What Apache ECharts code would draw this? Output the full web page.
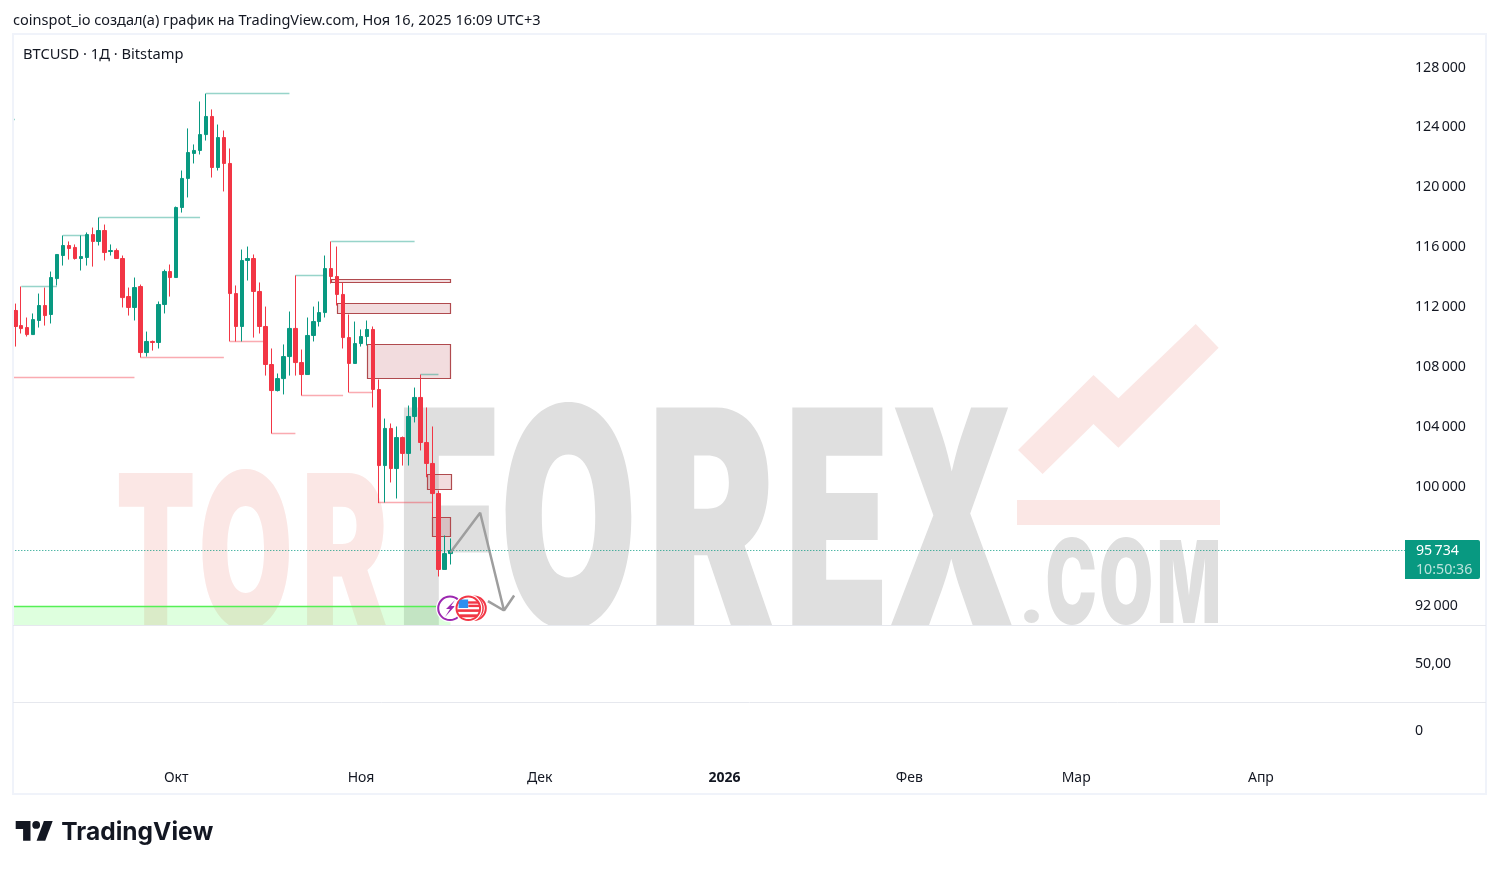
<!DOCTYPE html>
<html>
<head>
<meta charset="utf-8">
<style>html,body{margin:0;padding:0;background:#fff}#c{width:1499px;height:869px}</style>
<script src="https://cdn.jsdelivr.net/npm/echarts@6/dist/echarts.min.js"></script>
</head>
<body>
<div id="c"></div>
<script>
// ---------- chart data ----------
const startDate = '2025-09-04';
const categoryCount = 234;
// [open, close, low, high]
const candles = [
[111770,110700,109360,112230],[110760,110560,110230,113370],[110630,110160,110030,111300],[110160,111160,110160,111570],
[111100,112100,110630,112900],[112100,111430,110760,113300],[111500,113970,110900,114370],[113900,115510,113440,115510],
[115440,116110,114770,116780],[116110,115910,115170,116380],[115980,115240,115170,116180],[115240,115370,114440,116780],
[115310,116840,114770,116980],[116840,116380,114700,117310],[116380,117110,116110,117980],[117110,115640,115110,117510],
[115710,115770,115440,116180],[115770,115240,115240,115910],[115240,112630,111970,115440],[112700,111970,111430,113300],
[111970,113300,111100,113970],[113370,108960,108630,113500],[108960,109700,108690,110360],[109700,109630,109090,109760],
[109630,112170,109230,112370],[112170,114370,111570,114500],[114370,113970,112700,114840],[113970,118650,113970,118710],
[118650,120590,118310,121120],[120590,122320,119320,123930],[122260,122460,121590,122860],[122460,123520,122190,125730],
[123520,124730,123120,126260],[124730,121320,120650,125200],[121320,123320,121120,124190],[123320,121590,119720,123790],
[121590,112900,109700,122590],[112900,110700,109700,113440],[110700,115110,109700,115840],[115110,115240,113770,116040],
[115240,113040,109960,115510],[113040,110700,110230,113640],[110700,108160,107420,112030],[108160,106420,103550,109230],
[106420,107220,106360,107560],[107220,108690,106160,109500],[108690,110570,107420,111700],[110570,108290,107420,114110],
[108290,107490,106090,109160],[107490,110100,107490,111300],[110100,111030,109700,112030],[111030,111630,110700,112370],
[111630,114570,111300,115440],[114570,114040,113570,116380],[114040,112840,112100,116040],[112840,109960,109230,113640],
[109960,108230,106290,111500],[108230,109560,108230,111030],[109560,110030,109360,110500],[110030,110500,109430,111100],
[110500,106490,105290,110700],[106490,101410,98900,107160],[101410,103890,98940,104550],[103890,101210,100280,104220],
[101210,103280,99210,104020],[103280,102220,101410,103350],[102220,104690,101410,105420],[104690,105960,104290,106620],
[105960,102950,102420,107490],[102950,101550,100630,105290],[101550,99540,97960,104020],[99540,94470,94000,99740],
[94470,95530,94470,96740],[95530,95734,94800,96540]
];
const lastPrice = 95734;
const countdown = '10:50:36';
const priceTicks = [128000,124000,120000,116000,112000,108000,104000,100000,92000];
const monthTicks = {'2025-10-01':'Окт','2025-11-01':'Ноя','2025-12-01':'Дек','2026-01-01':'2026','2026-02-01':'Фев','2026-03-01':'Мар','2026-04-01':'Апр'};
// [fromIndex, toIndex, price]
const swingHighs = [[1,7,113391],[8,12,116798],[14,31,117980],[32,46,126263],[47,52,114106],[53,67,116397],[68,71,107472],[-0.5,-0.05,124526]];
const swingLows = [[-0.5,20,107292],[21,35,108648],[36,41.6,109697],[43,47,103571],[48,55,106110],[56,60,106310],[61,70,98922]];
// [fromIndex, toIndex, top, bottom]
const orderBlocks = [[53,73,113818,113591],[54,73,112215,111547],[59,73,109476,107205],[69,73,100792,99790],[70,73,97940,96691]];
const demandZone = [[-0.5,73,91995,90726]];
// [index, price]
const projection = [[73,95600],[78,98254],[82,91728],[83.7,92730]];
const projectionHead = [[79.3,92349],[82,91728]];

// ---------- layout ----------
const FONT = 'Noto Sans';
const TEXT = '#131722', UP = '#089981', DOWN = '#F23645';
const bandW = 5.96, gridL = 12.3, gridW = bandW * categoryCount;
const categories = [];
{ const d = new Date(startDate + 'T00:00:00Z');
  for (let i = 0; i < categoryCount; i++) { categories.push(d.toISOString().slice(0,10)); d.setUTCDate(d.getUTCDate()+1); } }

const fmtPrice = v => String(Math.round(v)).replace(/\B(?=(\d{3})+$)/g, '\u202f');

// fit a real text glyph into a pixel box
const mctx = document.createElement('canvas').getContext('2d');
function fit(text, font, xL, xR, top, bottom, fill, z) {
  mctx.font = font; mctx.textBaseline = 'middle'; mctx.textAlign = 'left';
  const m = mctx.measureText(text);
  const w = m.actualBoundingBoxLeft + m.actualBoundingBoxRight;
  const h = m.actualBoundingBoxAscent + m.actualBoundingBoxDescent;
  const sx = (xR - xL) / w, sy = (bottom - top) / h;
  return { type:'text', z: z||0, silent:true, x: xL + m.actualBoundingBoxLeft*sx, y: top + m.actualBoundingBoxAscent*sy,
    scaleX: sx, scaleY: sy, style:{ text, font, fill, align:'left', verticalAlign:'middle' } };
}
const GRAY = '#dfdfdf', PINK = '#fbe7e5';
const WM = '900 200px Inter';
const watermark = [
  ['T',118.6,192.5,472.7,628,PINK],['O',201.8,289.3,469.3,630,PINK],['R',307,387.5,472.7,628,PINK],
  ['F',403.6,494.6,406.7,628,GRAY],['O',505,632,402.7,630,GRAY],['R',656,774,406.7,628,GRAY],
  ['E',792,883,406.7,628,GRAY],['X',889.5,1013,406.7,628,GRAY],
  ['.',1024,1039,609,623,GRAY],['C',1047.6,1095,537,625,GRAY],['O',1101,1151,537,625,GRAY],['M',1159.7,1218,540,623,GRAY]
].map(a => fit(a[0], a[0]==='.' ? '900 200px Roboto' : WM, a[1],a[2],a[3],a[4],a[5],0));

function txt(text,x,y,size,fill){ return {type:'text',z:6,silent:true,x,y,style:{text,fill,font:'400 '+size+'px "'+FONT+'"',align:'left',verticalAlign:'middle'}}; }

const flagStripes = [[-10.5,-7,21,2.4,'#f23645'],[0,-3.6,11.5,2.4,'#f23645'],[-11,1,22,2.6,'#f23645'],[-9,6,18,3,'#f23645']];
const icons = [
  {type:'circle',z:7,shape:{cx:450,cy:608.3,r:14},style:{fill:'#fff'}},
  {type:'circle',z:7,shape:{cx:450,cy:608.3,r:11.8},style:{fill:'#fff',stroke:'#9c27b0',lineWidth:2}},
  {type:'polygon',z:7,shape:{points:[[455,600],[446,609],[450,609],[445,617],[455,606],[451,606]]},style:{fill:'#9c27b0'}},
  {type:'circle',z:7,shape:{cx:474,cy:608.3,r:14},style:{fill:'#fff'}},
  {type:'circle',z:7,shape:{cx:474,cy:608.3,r:11.8},style:{fill:'#fff',stroke:'#f23645',lineWidth:2}},
  {type:'circle',z:7,shape:{cx:471,cy:608.3,r:11.8},style:{fill:'#fff',stroke:'#f23645',lineWidth:2}},
  {type:'circle',z:7,shape:{cx:468.3,cy:608.3,r:14},style:{fill:'#fff'}},
  {type:'circle',z:7,shape:{cx:468.3,cy:608.3,r:11.8},style:{fill:'#fff',stroke:'#f23645',lineWidth:2}}
];
flagStripes.forEach(s => icons.push({type:'rect',z:7,shape:{x:468.3+s[0],y:608.3+s[1],width:s[2],height:s[3]},style:{fill:s[4]}}));
icons.push({type:'rect',z:7,shape:{x:458.6,y:599.5,width:9.5,height:8.5,r:[4,0,0,0]},style:{fill:'#2e8ff0'}});

const graphic = [
  ...watermark,
  {type:'rect',z:0,silent:true,shape:{x:100,y:625.5,width:1140,height:30},style:{fill:'#fff'}},
  {type:'polygon',z:0,silent:true,shape:{points:[[1018,450],[1093.5,375],[1118.4,398.3],[1195.7,324],[1218.6,347.7],[1118.4,447.7],[1093.5,424],[1042.6,474]]},style:{fill:PINK}},
  {type:'rect',z:0,silent:true,shape:{x:1017,y:500,width:203,height:25},style:{fill:PINK}},
  {type:'rect',z:6,silent:true,shape:{x:13,y:34,width:1473,height:760},style:{fill:'none',stroke:'#f0f3fa',lineWidth:2}},
  {type:'line',z:6,silent:true,shape:{x1:13,y1:625.5,x2:1486,y2:625.5},style:{stroke:'#e6e8ee',lineWidth:1}},
  {type:'line',z:6,silent:true,shape:{x1:13,y1:702.5,x2:1486,y2:702.5},style:{stroke:'#e6e8ee',lineWidth:1}},
  txt('coinspot_io создал(а) график на TradingView.com, Ноя 16, 2025 16:09 UTC+3',13,21,14.55,TEXT),
  txt('BTCUSD · 1Д · Bitstamp',23,55,14.7,TEXT),
  {type:'rect',z:6,silent:true,shape:{x:1405,y:540,width:75,height:39,r:[0,2,2,0]},style:{fill:UP}},
  txt(fmtPrice(lastPrice),1416,551,14.2,'#ffffff'),
  txt(countdown,1416,569.5,14.2,'rgba(255,255,255,0.72)'),
  ...icons,
  {type:'polygon',z:6,silent:true,shape:{points:[[15.7,821],[30.5,821],[30.5,840.7],[23.1,840.7],[23.1,828.9],[15.7,828.9]]},style:{fill:TEXT}},
  {type:'polygon',z:6,silent:true,shape:{points:[[43.9,821],[52.7,821],[45.2,840.7],[36.6,840.7]]},style:{fill:TEXT}},
  {type:'circle',z:6,silent:true,shape:{cx:36.2,cy:824.9,r:3.9},style:{fill:TEXT}},
  fit('TradingView','700 100px Inter',62,213,821.3,845.7,TEXT,6)
];

const segSeries = (arr, color, z) => ({
  type:'custom', xAxisIndex:3, yAxisIndex:0, z, silent:true, clip:true, animation:false,
  data: arr, encode:{x:[0,1],y:2},
  renderItem(p, api){
    const a = api.coord([api.value(0),api.value(2)]), b = api.coord([api.value(1),api.value(2)]);
    return {type:'line',shape:{x1:a[0],y1:Math.floor(a[1])+0.5,x2:b[0],y2:Math.floor(b[1])+0.5},style:{stroke:color,lineWidth:1.5}};
  }
});
const boxSeries = (arr, fill, stroke, z) => ({
  type:'custom', xAxisIndex:3, yAxisIndex:0, z, silent:true, clip:true, animation:false,
  data: arr, encode:{x:[0,1],y:[2,3]},
  renderItem(p, api){
    const a = api.coord([api.value(0),api.value(2)]), b = api.coord([api.value(1),api.value(3)]);
    return {type:'rect',shape:{x:Math.round(a[0])+0.5,y:Math.floor(a[1])+0.5,width:Math.round(b[0]-a[0]),height:Math.round(b[1]-a[1])},style:{fill,stroke,lineWidth:stroke?1.2:0}};
  }
});
const polySeries = (arr, z) => ({
  type:'line', xAxisIndex:3, yAxisIndex:0, z, silent:true, animation:false, data:arr, symbol:'none',
  lineStyle:{color:'#9e9e9e',width:2.5}, clip:false
});
const hiddenCat = g => ({type:'category',gridIndex:g,data:categories,show:false,boundaryGap:true});

const option = {
  animation:false,
  backgroundColor:'#fff',
  textStyle:{fontFamily:FONT},
  graphic:{elements:graphic},
  grid:[
    {left:gridL,top:35.5,width:gridW,height:590},
    {left:gridL,top:626,width:gridW,height:76},
    {left:gridL,top:703,width:gridW,height:57}
  ],
  xAxis:[
    hiddenCat(0), hiddenCat(1),
    {type:'category',gridIndex:2,data:categories,boundaryGap:true,z:5,
      axisLine:{show:false},axisTick:{show:false},splitLine:{show:false},
      axisLabel:{margin:11,fontFamily:FONT,fontSize:14,color:TEXT,hideOverlap:false,
        interval:(i,v)=>!!monthTicks[v],
        formatter:v=>{const t=monthTicks[v]||''; return /^\d+$/.test(t)?'{b|'+t+'}':t;},
        rich:{b:{fontWeight:'bold',fontSize:14,fontFamily:FONT,color:TEXT}}}},
    {type:'value',gridIndex:0,min:-0.5,max:categoryCount-0.5,show:false}
  ],
  yAxis:[
    {type:'value',gridIndex:0,position:'right',min:90726,max:130138,scale:true,z:5,
      axisLine:{show:false},axisTick:{show:false},splitLine:{show:false},
      axisLabel:{customValues:priceTicks,margin:8,padding:[1,0,0,0],fontFamily:FONT,fontSize:14.2,color:TEXT,formatter:fmtPrice}},
    {type:'value',gridIndex:1,position:'right',min:0,max:100,z:5,
      axisLine:{show:false},axisTick:{show:false},splitLine:{show:false},
      axisLabel:{customValues:[50],margin:8,padding:[4,0,0,0],fontFamily:FONT,fontSize:14.2,color:TEXT,formatter:v=>v.toFixed(2).replace('.',',')}},
    {type:'value',gridIndex:2,position:'right',min:-29,max:28,z:5,
      axisLine:{show:false},axisTick:{show:false},splitLine:{show:false},
      axisLabel:{customValues:[0],margin:8,padding:[4,0,0,0],fontFamily:FONT,fontSize:14.2,color:TEXT}}
  ],
  series:[
    boxSeries(demandZone,'rgba(60,255,60,0.17)',null,1),
    segSeries([[demandZone[0][0],demandZone[0][1],demandZone[0][2]]],'#55f055',1),
    boxSeries(orderBlocks,'rgba(178,50,60,0.17)','#b04a4e',1),
    segSeries(swingHighs,'rgba(8,153,129,0.42)',1),
    segSeries(swingLows,'rgba(242,54,69,0.42)',1),
    {type:'candlestick',xAxisIndex:0,yAxisIndex:0,z:2,data:candles,barWidth:4,silent:true,animation:false,
      itemStyle:{color:UP,color0:DOWN,borderColor:UP,borderColor0:DOWN,borderWidth:1},
      markLine:{silent:true,symbol:'none',animation:false,label:{show:false},
        lineStyle:{color:UP,type:[1,2],width:1},data:[{yAxis:lastPrice}]}},
    polySeries(projection,3),
    polySeries(projectionHead,3)
  ]
};
const chart = echarts.init(document.getElementById('c'),null,{renderer:'canvas'});
chart.setOption(option);
</script>
</body>
</html>
